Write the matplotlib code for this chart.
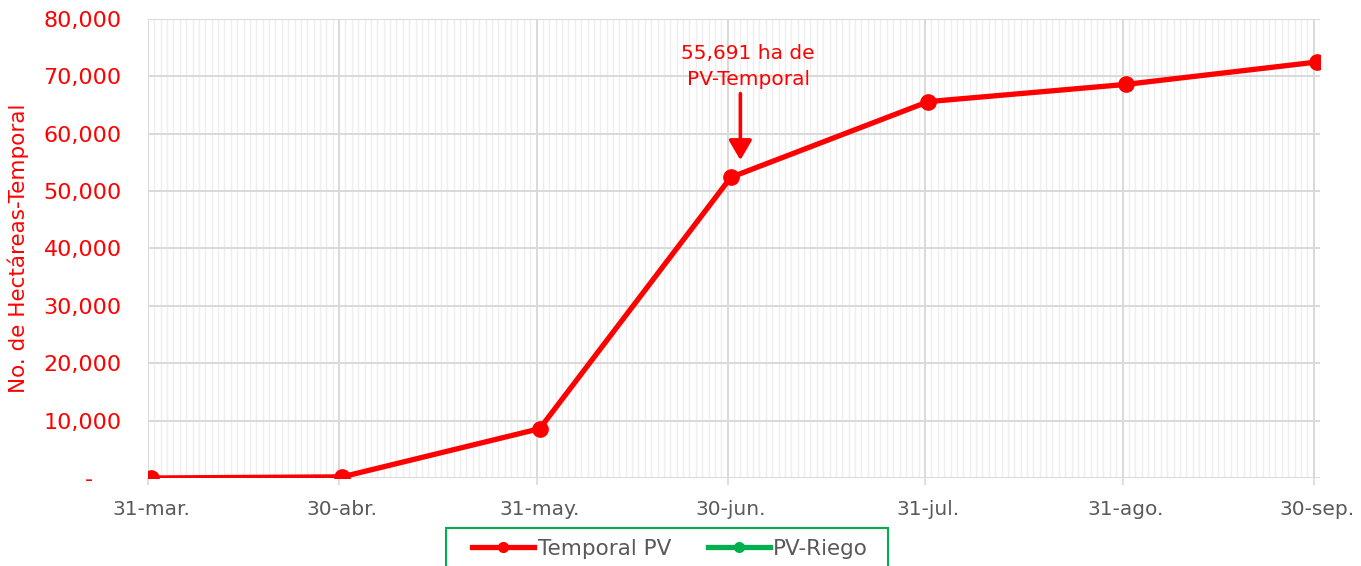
import matplotlib
matplotlib.use("Agg")
import matplotlib.pyplot as plt
from matplotlib.lines import Line2D
from matplotlib.patches import Rectangle
from matplotlib.ticker import FixedLocator, FuncFormatter, MultipleLocator
from matplotlib.transforms import ScaledTranslation

# ---- data ----
date_labels = ["31-mar.", "30-abr.", "31-may.", "30-jun.", "31-jul.", "31-ago.", "30-sep."]
day_offsets = [0, 30, 61, 91, 122, 153, 183]          # days since 31-mar
temporal_pv = [0, 200, 8600, 52400, 65600, 68600, 72500]
pv_riego = []                                          # series shown only in legend
y_ticks = [0, 10000, 20000, 30000, 40000, 50000, 60000, 70000, 80000]
annot_text = "55,691 ha de\nPV-Temporal"
series_names = ["Temporal PV", "PV-Riego"]

RED = "#ff0000"
GREEN = "#00b050"
GRAY = "#595959"
FONT = ["DejaVu Sans"]

plt.rcParams["font.family"] = FONT

W, H = 1361, 566
fig = plt.figure(figsize=(W/100, H/100), dpi=100)
ax = fig.add_axes([148/W, 1-478/H, (1320-148)/W, (478-19)/H])

xpts = [d + 0.5 for d in day_offsets]
ax.plot(xpts, temporal_pv, color=RED, lw=3.8, marker="o", ms=11,
        zorder=5, solid_capstyle="round")
ax.plot(xpts[:len(pv_riego)], pv_riego, color=GREEN, lw=3.8, marker="o", ms=11)

ax.set_xlim(0, day_offsets[-1] + 1)
ax.set_ylim(y_ticks[0], y_ticks[-1])

# grid
ax.xaxis.set_major_locator(FixedLocator(day_offsets))
ax.xaxis.set_minor_locator(MultipleLocator(1))
ax.set_xticklabels(date_labels)
ax.set_yticks(y_ticks)
ax.grid(which="major", axis="both", color="#d9d9d9", lw=1.4, zorder=1)
ax.grid(which="minor", axis="x", color="#eeeeee", lw=1.0, zorder=0)
ax.set_axisbelow(True)
for s in ax.spines.values():
    s.set_visible(False)

ax.tick_params(axis="x", which="major", length=5, color="#d9d9d9", width=1.2,
               pad=11, labelsize=14.5, labelcolor=GRAY)
ax.tick_params(axis="x", which="minor", length=0)
ax.tick_params(axis="y", length=0, pad=19, labelsize=16, labelcolor=RED)
for lab in ax.get_xticklabels():
    lab.set_transform(lab.get_transform() + ScaledTranslation(3/100, 0, fig.dpi_scale_trans))

def yfmt(v, pos):
    return "-    " if v == 0 else f"{int(v):,}"
ax.yaxis.set_major_formatter(FuncFormatter(yfmt))

fig.text(18/W, 1-248/H, "No. de Hectáreas-Temporal", rotation=90,
         ha="center", va="center", color=RED, fontsize=15.5)

# annotation
ax.annotate("", xy=(93, 55400), xytext=(93, 67000),
            arrowprops=dict(arrowstyle="-|>,head_width=0.35,head_length=0.6",
                            color=RED, lw=2.6, mutation_scale=20, shrinkA=0, shrinkB=0),
            zorder=6)
ax.text(94.2, 71700, annot_text, ha="center", va="center", color=RED,
        fontsize=14.5, linespacing=1.45, zorder=6)

# legend (frame drawn separately; it runs past the bottom edge)
handles = [Line2D([], [], color=RED, lw=3.8, marker="o", ms=7),
           Line2D([], [], color=GREEN, lw=3.8, marker="o", ms=7)]
leg = fig.legend(handles, series_names, loc="center",
                 bbox_to_anchor=(670/W, 1-549/H), ncol=2,
                 frameon=False, fontsize=15.5, labelcolor=GRAY, handlelength=2.9,
                 handletextpad=0.15, columnspacing=1.7, borderpad=0,
                 borderaxespad=0)
fig.patches.append(Rectangle((446/W, -20/H), (888-446)/W, (20+566-528)/H,
                             transform=fig.transFigure, fill=False,
                             edgecolor=GREEN, lw=1.5))

fig.savefig("out.png", dpi=100)
